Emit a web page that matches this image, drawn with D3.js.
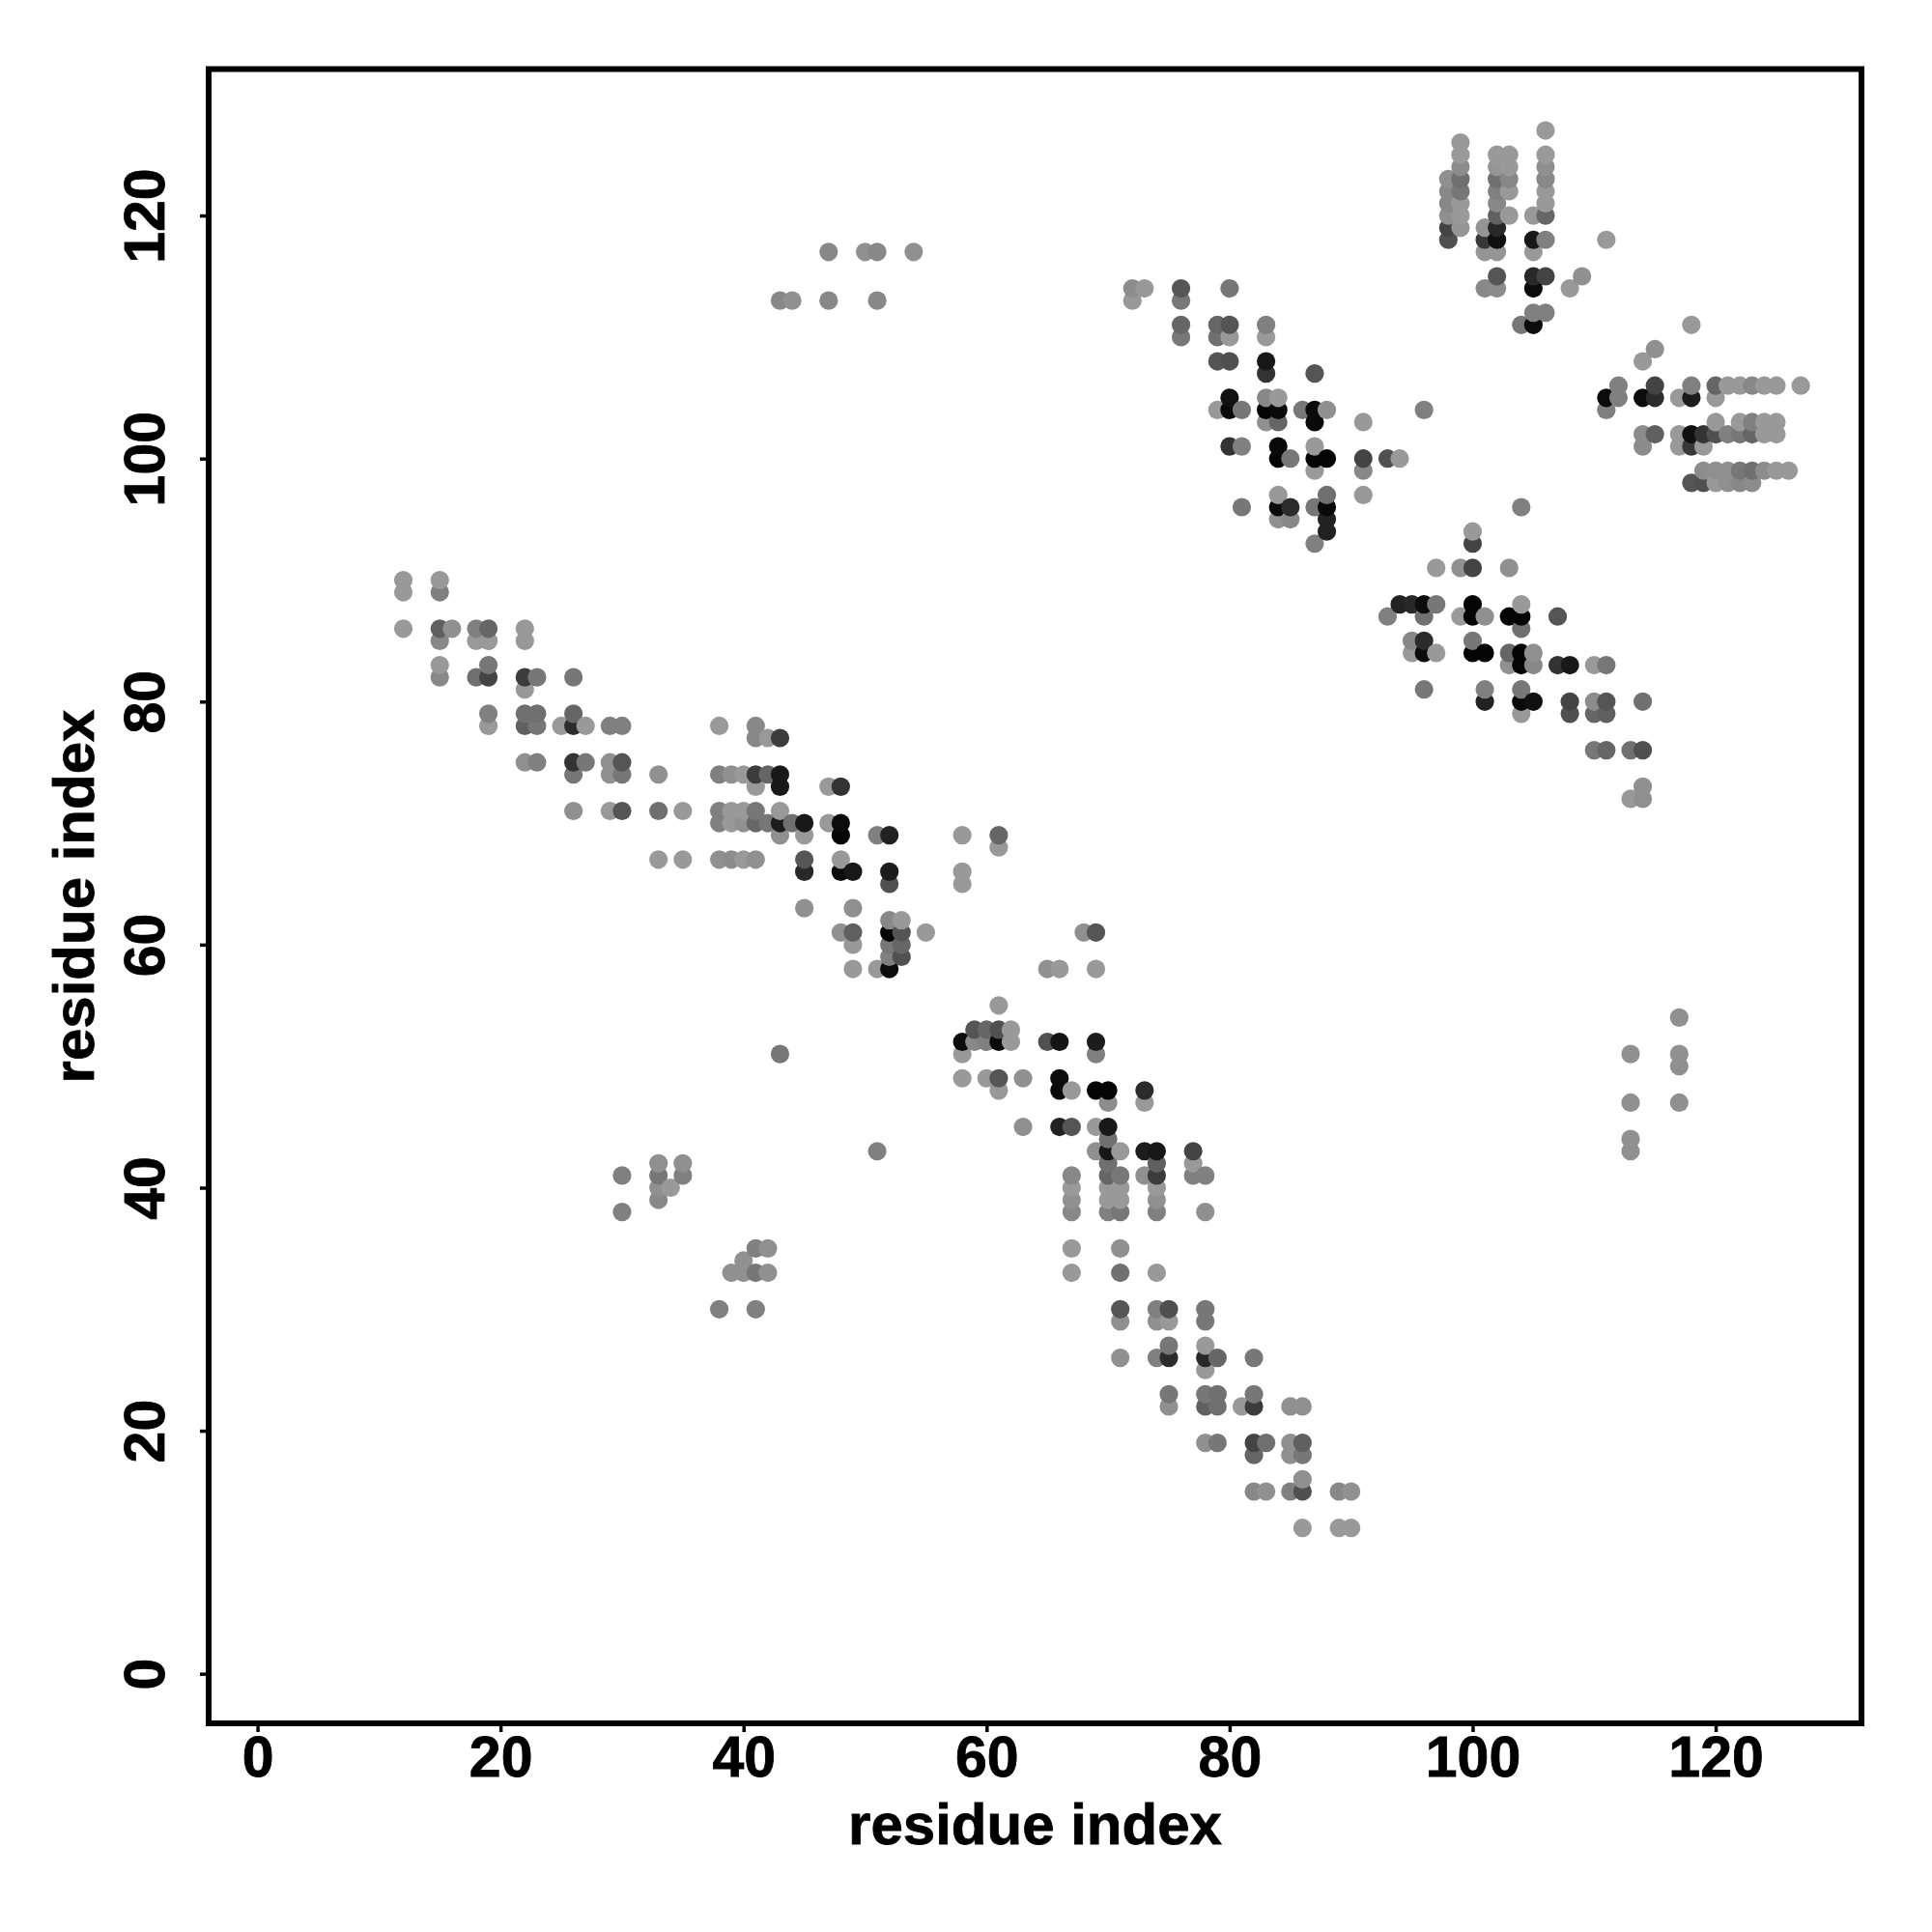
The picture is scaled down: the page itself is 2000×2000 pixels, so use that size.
<!DOCTYPE html>
<html>
<head>
<meta charset="utf-8">
<script src="https://cdn.jsdelivr.net/npm/d3@7"></script>
<style>
html,body{margin:0;padding:0;background:#fff}
svg{display:block}
text{font-family:"Liberation Sans",Arial,sans-serif;font-weight:bold;fill:#000;stroke:#000;stroke-width:0.8px}
</style>
</head>
<body>
<svg id="chart" width="2000" height="2000"></svg>
<script>
const xTicks = [0,20,40,60,80,100,120];
const yTicks = [0,20,40,60,80,100,120];
const xTitle = "residue index";
const yTitle = "residue index";
// each column: residue i, then [residue j, darkness (0 = lightest contact, 153 = black)]
const columns = [
[12,[[90,0],[89,0],[86,0]]],
[15,[[90,0],[89,25],[86,57],[85,17],[83,0],[82,17]]],
[16,[[86,9]]],
[18,[[86,25],[85,0],[82,41]]],
[19,[[86,51],[85,0],[83,34],[82,85],[79,25],[78,0]]],
[22,[[86,0],[85,0],[82,93],[81,0],[79,41],[78,57],[75,9]]],
[23,[[82,34],[79,41],[78,34],[75,25]]],
[25,[[78,0]]],
[26,[[82,34],[79,51],[78,109],[75,102],[74,34],[71,9]]],
[27,[[78,0],[75,34]]],
[29,[[78,25],[75,9],[74,9],[71,0]]],
[30,[[78,25],[75,68],[74,34],[71,68],[41,25],[38,25]]],
[33,[[74,9],[71,41],[67,0],[42,9],[41,34],[40,9],[39,17]]],
[34,[[40,0]]],
[35,[[71,0],[67,0],[42,9],[41,25]]],
[38,[[78,0],[74,25],[71,25],[70,25],[67,9],[30,25]]],
[39,[[74,9],[71,0],[70,0],[67,13],[33,9]]],
[40,[[74,0],[71,0],[70,9],[67,0],[34,9],[33,9]]],
[41,[[78,17],[77,17],[74,93],[73,0],[71,34],[70,51],[67,9],[35,25],[33,34],[30,25]]],
[42,[[77,0],[74,51],[70,34],[35,9],[33,9]]],
[43,[[113,17],[77,93],[74,129],[73,129],[71,0],[70,125],[69,9],[51,34]]],
[44,[[113,9],[70,41]]],
[45,[[70,129],[69,0],[67,68],[66,113],[63,9]]],
[47,[[117,17],[113,17],[73,0],[70,0]]],
[48,[[73,102],[70,141],[69,148],[67,0],[66,141],[61,9]]],
[49,[[66,129],[63,9],[61,57],[60,0],[58,0]]],
[50,[[117,9]]],
[51,[[117,17],[113,17],[69,25],[58,0],[43,25]]],
[52,[[69,119],[66,125],[65,73],[62,17],[61,148],[60,34],[59,25],[58,141]]],
[53,[[62,0],[61,68],[60,51],[59,73]]],
[54,[[117,9]]],
[55,[[61,0]]],
[58,[[69,0],[66,0],[65,0],[52,141],[51,0],[49,0]]],
[59,[[53,68],[52,17]]],
[60,[[53,51],[52,25],[49,0]]],
[61,[[69,51],[68,0],[55,0],[53,73],[52,143],[49,68],[48,0]]],
[62,[[53,0],[52,0]]],
[63,[[49,9],[45,9]]],
[65,[[58,9],[52,73]]],
[66,[[58,0],[52,133],[49,141],[48,143],[45,119]]],
[67,[[48,0],[45,68],[41,17],[40,0],[39,9],[38,17],[35,0],[33,0]]],
[68,[[61,9]]],
[69,[[61,68],[58,0],[52,125],[51,25],[48,148],[45,0],[43,9]]],
[70,[[48,148],[47,13],[45,129],[44,41],[43,129],[42,41],[41,51],[40,0],[39,0],[38,25]]],
[71,[[43,0],[41,34],[40,0],[39,0],[38,34],[35,9],[33,41],[30,68],[29,9],[26,9]]],
[72,[[114,13],[113,0]]],
[73,[[114,0],[48,109],[47,0],[43,125],[41,9]]],
[74,[[43,129],[42,57],[41,93],[40,0],[39,9],[38,25],[33,0],[30,25],[29,9],[26,25]]],
[75,[[30,73],[29,0],[27,34],[26,109],[23,34],[22,9]]],
[76,[[114,68],[113,34],[111,51],[110,34]]],
[77,[[43,85],[42,0],[41,25]]],
[78,[[41,25],[38,9],[30,34],[29,34],[27,0],[26,113],[25,0],[23,34],[22,57],[19,9]]],
[79,[[111,51],[110,41],[108,68],[104,0],[26,51],[23,41],[22,41],[19,34]]],
[80,[[114,34],[111,68],[110,0],[108,73],[105,136],[104,143],[101,102]]],
[81,[[104,34],[101,25],[96,34],[22,0]]],
[82,[[26,34],[23,34],[22,93],[19,85],[18,51],[15,17]]],
[83,[[111,25],[110,0],[108,129],[107,102],[105,17],[104,148],[103,9],[19,41],[15,9]]],
[84,[[105,0],[104,143],[103,51],[101,143],[100,148],[97,0],[96,143],[95,9]]],
[85,[[100,34],[96,109],[95,17],[22,9],[19,9],[18,9],[15,25]]],
[86,[[104,34],[22,9],[19,57],[18,34],[16,9],[15,73],[12,0]]],
[87,[[107,68],[104,143],[103,143],[101,0],[100,148],[99,0],[96,34],[93,25]]],
[88,[[104,9],[100,148],[97,41],[96,143],[95,119],[94,119]]],
[89,[[15,17],[12,0]]],
[90,[[15,9],[12,0]]],
[91,[[103,0],[100,85],[99,17],[97,0]]],
[93,[[100,73],[87,25]]],
[94,[[100,0],[88,119]]],
[95,[[88,113],[85,17],[84,0]]],
[96,[[104,25],[88,141],[87,41],[85,109],[84,141],[81,34]]],
[97,[[91,0],[88,34],[84,0]]],
[98,[[123,9],[122,17],[121,17],[120,9],[119,85],[118,73]]],
[99,[[126,0],[125,0],[124,13],[123,41],[122,34],[121,0],[120,0],[119,4],[91,9],[87,0]]],
[100,[[94,0],[93,85],[91,85],[88,148],[87,148],[85,34],[84,148]]],
[101,[[119,4],[118,97],[117,4],[114,17],[87,9],[84,148],[81,25],[80,119]]],
[102,[[125,0],[124,4],[123,41],[122,25],[121,17],[120,57],[119,113],[118,137],[117,4],[115,68],[114,13]]],
[103,[[125,0],[124,0],[123,17],[122,0],[120,0],[91,9],[87,148],[84,51],[83,9]]],
[104,[[111,34],[96,25],[88,0],[87,148],[86,41],[84,148],[83,148],[81,34],[80,143],[79,0]]],
[105,[[120,0],[118,129],[117,0],[115,113],[114,141],[112,25],[111,141],[84,9],[83,17],[80,137]]],
[106,[[127,0],[125,0],[124,9],[123,17],[122,0],[121,0],[120,51],[118,25],[115,85],[112,25]]],
[107,[[87,68],[83,102]]],
[108,[[114,0],[83,129],[80,85],[79,73]]],
[109,[[115,9]]],
[110,[[83,0],[80,13],[79,51],[76,34]]],
[111,[[118,0],[105,141],[104,25],[83,34],[80,68],[79,57],[76,51]]],
[112,[[106,25],[105,25]]],
[113,[[76,41],[72,0],[51,9],[47,9],[44,9],[43,9]]],
[114,[[108,0],[105,141],[102,13],[101,13],[80,41],[76,73],[73,9],[72,9]]],
[115,[[109,9],[106,85],[105,109],[102,57]]],
[117,[[105,0],[102,0],[101,0],[54,9],[51,9],[50,9],[47,9]]],
[118,[[111,0],[106,25],[105,125],[102,137],[101,97],[98,68]]],
[119,[[102,102],[101,0],[99,13],[98,73]]],
[120,[[106,51],[105,0],[103,0],[102,73],[99,9],[98,0]]],
[121,[[106,0],[102,25],[99,9],[98,9]]],
[122,[[106,0],[103,0],[102,34],[99,34],[98,17]]],
[123,[[106,17],[103,25],[102,51],[99,41],[98,13]]],
[124,[[106,0],[103,0],[102,0],[99,13]]],
[125,[[106,0],[103,0],[102,0],[99,0]]],
[126,[[99,0]]],
[127,[[106,0]]]
];

const box = {left:216, right:1927, top:71.5, bottom:1784};
const x = d3.scaleLinear().domain([-4.02,132]).range([box.left,box.right]);
const y = d3.scaleLinear().domain([-4.08,132.05]).range([box.bottom,box.top]);
const grey = d3.scaleLinear().domain([0,153]).range(["#999999","#000000"]);

const points = columns.flatMap(([i,rows]) =>
  rows.map(([j,d]) => ({i,j,d})).sort((a,b)=>a.j-b.j));

const svg = d3.select("#chart");

svg.append("g").selectAll("circle").data(points).join("circle")
  .attr("cx",p=>x(p.i)).attr("cy",p=>y(p.j)).attr("r",9.6).attr("fill",p=>grey(p.d));

const tickFont = 59;
const titleFont = 60;
const gx = svg.append("g").attr("transform",`translate(0,${box.bottom})`)
  .call(d3.axisBottom(x).tickValues(xTicks).tickSize(9).tickPadding(6).tickFormat(d3.format("d")));
const gy = svg.append("g").attr("transform",`translate(${box.left},0)`)
  .call(d3.axisLeft(y).tickValues(yTicks).tickSize(9).tickFormat(d3.format("d")));
for (const g of [gx,gy]) {
  g.select(".domain").remove();
  g.selectAll(".tick line").attr("stroke","#000").attr("stroke-width",3.5);
  g.selectAll(".tick text").attr("font-size",tickFont).attr("fill","#000");
}
gx.selectAll(".tick text").attr("y",null).attr("dy",null).attr("text-anchor","middle")
  .attr("y",55);
gy.selectAll(".tick text").attr("x",null).attr("dy",null).attr("y",null)
  .attr("text-anchor","middle").attr("transform","translate(-46,0) rotate(-90)");

svg.append("rect").attr("x",box.left).attr("y",box.top)
  .attr("width",box.right-box.left).attr("height",box.bottom-box.top)
  .attr("fill","none").attr("stroke","#000").attr("stroke-width",6);

svg.append("text").attr("x",1071.5).attr("y",1909).attr("text-anchor","middle")
  .attr("font-size",titleFont).text(xTitle);
svg.append("text").attr("transform","translate(97,928) rotate(-90)").attr("text-anchor","middle")
  .attr("font-size",titleFont).text(yTitle);
</script>
</body>
</html>
